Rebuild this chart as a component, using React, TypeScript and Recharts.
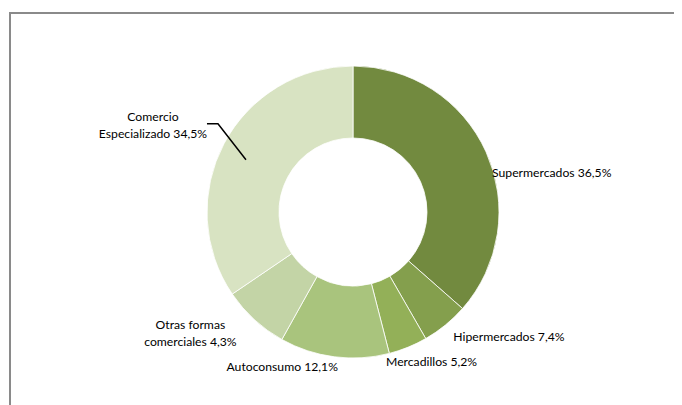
import React from "react";
import { PieChart, Pie, Cell } from "recharts";

const categories = [
  "Supermercados",
  "Hipermercados",
  "Mercadillos",
  "Autoconsumo",
  "Otras formas comerciales",
  "Comercio Especializado",
];
// slice sizes as drawn in the picture
const sliceValues = [36.5, 5.2, 4.3, 12.1, 7.4, 34.5];
// label lines as printed in the picture
const labelLines = [
  ["Supermercados 36,5%"],
  ["Hipermercados 7,4%"],
  ["Mercadillos 5,2%"],
  ["Autoconsumo 12,1%"],
  ["Otras formas", "comerciales 4,3%"],
  ["Comercio", "Especializado 34,5%"],
];
const colors = ["#728A3F", "#849F4D", "#93B058", "#A9C47D", "#C3D4A6", "#D8E3C2"];

const labelOffsets = [
  { dx: 6, dy: 21, anchor: "start" },
  { dx: 8, dy: 12, anchor: "start" },
  { dx: -22, dy: 14, anchor: "start" },
  { dx: -52, dy: 10, anchor: "middle" },
  { dx: -64, dy: 5, anchor: "middle" },
  { dx: -71, dy: -27, anchor: "middle" },
];

const data = categories.map((name, i) => ({ name, value: sliceValues[i] }));

const RAD = Math.PI / 180;

const renderLabel = (props: any) => {
  const { cx, cy, midAngle, outerRadius, index } = props;
  const px = cx + outerRadius * Math.cos(-midAngle * RAD);
  const py = cy + outerRadius * Math.sin(-midAngle * RAD);
  const o = labelOffsets[index];
  const x = px + o.dx;
  const y = py + o.dy;
  const lines = labelLines[index];
  return (
    <g key={`lbl-${index}`}>
      <text
        x={x}
        y={y}
        textAnchor={o.anchor}
        fontFamily="Lato, 'Open Sans', sans-serif"
        fontSize={12.2}
        fill="#000"
      >
        {lines.map((t, j) => (
          <tspan key={j} x={x} dy={j === 0 ? "0.35em" : 17}>
            {t}
          </tspan>
        ))}
      </text>
      {index === 5 && (
        <polyline
          points={`${x + 54},${y + 7} ${x + 65},${y + 7} ${x + 93},${y + 43}`}
          fill="none"
          stroke="#000"
          strokeWidth={1.5}
        />
      )}
    </g>
  );
};

export default function App() {
  return (
    <div style={{ position: "relative", width: 674, height: 397, overflow: "hidden" }}>
      <div
        style={{
          position: "absolute",
          left: 1,
          top: 4,
          width: 800,
          height: 600,
          border: "2px solid #8a8a8a",
          boxSizing: "border-box",
        }}
      />
      <div style={{ position: "absolute", left: 0, top: 0 }}>
        <PieChart width={674} height={397}>
          <Pie
            data={data}
            dataKey="value"
            nameKey="name"
            cx={340}
            cy={199}
            innerRadius={74}
            outerRadius={146}
            startAngle={90}
            endAngle={-270}
            stroke="#ffffff"
            strokeWidth={0.8}
            label={renderLabel}
            labelLine={false}
            isAnimationActive={false}
          >
            {data.map((d, i) => (
              <Cell key={d.name} fill={colors[i]} />
            ))}
          </Pie>
        </PieChart>
      </div>
    </div>
  );
}
